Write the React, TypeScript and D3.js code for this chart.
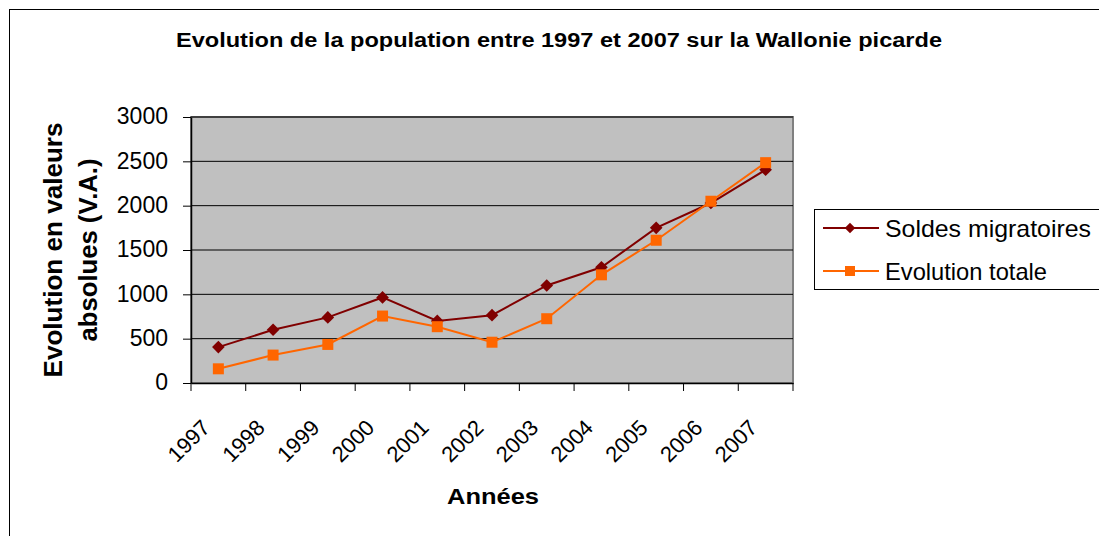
import React, { useEffect, useRef } from "react";
import * as d3 from "d3";

const years = ["1997", "1998", "1999", "2000", "2001", "2002", "2003", "2004", "2005", "2006", "2007"];
const soldesMigratoires = [405, 600, 740, 965, 700, 765, 1100, 1305, 1750, 2030, 2405];
const evolutionTotale = [160, 315, 435, 755, 635, 460, 725, 1220, 1610, 2050, 2485];
const yTicks = [0, 500, 1000, 1500, 2000, 2500, 3000];

const FONT = "'Liberation Sans', Arial, sans-serif";

const App = () => {
  const svgRef = useRef<SVGSVGElement>(null);

  useEffect(() => {
    document.body.style.margin = "0";
    const width = 1099;
    const height = 536;
    const plot = { left: 191, top: 117, right: 793, bottom: 383 };

    const svg = d3.select(svgRef.current).attr("width", width).attr("height", height);
    svg.selectAll("*").remove();

    svg.append("rect").attr("width", width).attr("height", height).attr("fill", "#fff");
    // outer frame
    svg.append("rect")
      .attr("x", 9.5).attr("y", 9.5).attr("width", 1100).attr("height", 540)
      .attr("fill", "none").attr("stroke", "#000").attr("stroke-width", 1);

    const x = d3.scaleBand().domain(years).range([plot.left, plot.right]);
    const y = d3.scaleLinear().domain([0, 3000]).range([plot.bottom, plot.top]);

    // plot background
    svg.append("rect")
      .attr("x", plot.left).attr("y", plot.top)
      .attr("width", plot.right - plot.left).attr("height", plot.bottom - plot.top)
      .attr("fill", "#c0c0c0").attr("stroke", "#808080").attr("stroke-width", 2);

    // grid
    svg.append("g").selectAll("line").data(yTicks.filter((t) => t > 0)).enter().append("line")
      .attr("x1", plot.left).attr("x2", plot.right)
      .attr("y1", (d) => y(d)).attr("y2", (d) => y(d))
      .attr("stroke", "#000").attr("stroke-width", 1);

    // y axis
    const yAxis = svg.append("g")
      .attr("transform", `translate(${plot.left},0)`)
      .call(d3.axisLeft(y).tickValues(yTicks).tickFormat(d3.format("d")).tickSize(8).tickPadding(15).tickSizeOuter(0));
    yAxis.select(".domain").attr("stroke", "#000").attr("stroke-width", 1.5);
    yAxis.selectAll(".tick line").attr("stroke", "#000");
    yAxis.selectAll("text").attr("font-family", FONT).attr("font-size", 23).attr("fill", "#000").attr("dy", "0.3em");

    // x axis
    const xAxis = svg.append("g")
      .attr("transform", `translate(0,${plot.bottom})`)
      .call(d3.axisBottom(x).tickSize(0).tickSizeOuter(0));
    xAxis.select(".domain").attr("stroke", "#000").attr("stroke-width", 1.5);
    xAxis.selectAll(".tick text")
      .attr("font-family", FONT).attr("font-size", 22).attr("fill", "#000")
      .attr("text-anchor", "end")
      .attr("y", 0).attr("dy", 0)
      .attr("transform", "translate(-7,46) rotate(-45)");
    const bounds = years.map((d) => x(d) as number).concat([plot.right]);
    svg.append("g").selectAll("line").data(bounds).enter().append("line")
      .attr("x1", (d) => d).attr("x2", (d) => d)
      .attr("y1", plot.bottom).attr("y2", plot.bottom + 8)
      .attr("stroke", "#000");

    const cx = (i: number) => (x(years[i]) as number) + x.bandwidth() / 2;
    const line = d3.line<number>().x((d, i) => cx(i)).y((d) => y(d));

    // series
    svg.append("path").datum(soldesMigratoires).attr("d", line)
      .attr("fill", "none").attr("stroke", "#800000").attr("stroke-width", 2);
    svg.append("g").selectAll("path").data(soldesMigratoires).enter().append("path")
      .attr("d", d3.symbol(d3.symbolSquare, 80))
      .attr("transform", (d, i) => `translate(${cx(i)},${y(d)}) rotate(45)`)
      .attr("fill", "#800000");

    svg.append("path").datum(evolutionTotale).attr("d", line)
      .attr("fill", "none").attr("stroke", "#ff6600").attr("stroke-width", 2);
    svg.append("g").selectAll("rect").data(evolutionTotale).enter().append("rect")
      .attr("x", (d, i) => cx(i) - 5.5).attr("y", (d) => y(d) - 5.5)
      .attr("width", 11).attr("height", 11)
      .attr("fill", "#ff6600");

    // title
    svg.append("text")
      .attr("x", 559).attr("y", 47).attr("text-anchor", "middle")
      .attr("font-family", FONT).attr("font-weight", "bold").attr("font-size", 20)
      .attr("textLength", 766).attr("lengthAdjust", "spacingAndGlyphs")
      .text("Evolution de la population entre 1997 et 2007 sur la Wallonie picarde");

    // y title
    const yt = svg.append("text")
      .attr("transform", "translate(62,250) rotate(-90)")
      .attr("text-anchor", "middle")
      .attr("font-family", FONT).attr("font-weight", "bold").attr("font-size", 26);
    yt.append("tspan").attr("x", 0).attr("y", 0)
      .attr("textLength", 255).attr("lengthAdjust", "spacingAndGlyphs").text("Evolution en valeurs");
    yt.append("tspan").attr("x", 0).attr("y", 35)
      .attr("textLength", 183).attr("lengthAdjust", "spacingAndGlyphs").text("absolues (V.A.)");

    // x title
    svg.append("text")
      .attr("x", 493).attr("y", 504).attr("text-anchor", "middle")
      .attr("font-family", FONT).attr("font-weight", "bold").attr("font-size", 22.5)
      .attr("textLength", 92).attr("lengthAdjust", "spacingAndGlyphs")
      .text("Années");

    // legend
    const lg = svg.append("g");
    lg.append("rect").attr("x", 814.5).attr("y", 209.5).attr("width", 290).attr("height", 80)
      .attr("fill", "#fff").attr("stroke", "#000");
    const items = [
      { label: "Soldes migratoires", color: "#800000", shape: "diamond", yy: 228, len: 206 },
      { label: "Evolution totale", color: "#ff6600", shape: "square", yy: 271, len: 162 },
    ];
    items.forEach((it) => {
      lg.append("line").attr("x1", 823).attr("x2", 879).attr("y1", it.yy).attr("y2", it.yy)
        .attr("stroke", it.color).attr("stroke-width", 2);
      if (it.shape === "diamond") {
        lg.append("path").attr("d", d3.symbol(d3.symbolSquare, 55))
          .attr("transform", `translate(850,${it.yy}) rotate(45)`).attr("fill", it.color);
      } else {
        lg.append("rect").attr("x", 845).attr("y", it.yy - 5).attr("width", 10).attr("height", 10)
          .attr("fill", it.color);
      }
      lg.append("text").attr("x", 885).attr("y", it.yy).attr("dy", "0.36em")
        .attr("font-family", FONT).attr("font-size", 24)
        .attr("textLength", it.len).attr("lengthAdjust", "spacingAndGlyphs")
        .text(it.label);
    });
  }, []);

  return <svg ref={svgRef}></svg>;
};

export default App;
